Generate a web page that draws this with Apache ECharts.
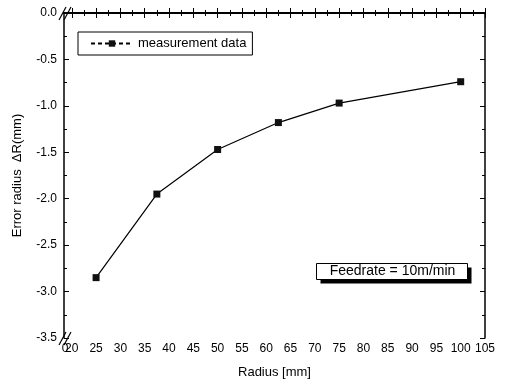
<!DOCTYPE html>
<html>
<head>
<meta charset="utf-8">
<script src="https://cdn.jsdelivr.net/npm/echarts@6/dist/echarts.min.js"></script>
<style>
  html, body { margin: 0; padding: 0; background: #fff; }
  #chart { width: 506px; height: 385px; }
</style>
</head>
<body>
<div id="chart"></div>
<script>
const radius = [25, 37.5, 50, 62.5, 75, 100];
const errorRadius = [-2.85, -1.95, -1.47, -1.18, -0.97, -0.74];
const xMajorTicks = [20, 25, 30, 35, 40, 45, 50, 55, 60, 65, 70, 75, 80, 85, 90, 95, 100, 105];
const xMinorTicks = [22.5, 27.5, 32.5, 37.5, 42.5, 47.5, 52.5, 57.5, 62.5, 67.5, 72.5, 77.5, 82.5, 87.5, 92.5, 97.5, 102.5];
const xBreakStart = 18.4; // axis shows "0", then a break, then 20
const noteText = "Feedrate = 10m/min";

const chart = echarts.init(document.getElementById("chart"));
const font = "Liberation Sans, Arial, sans-serif";

const baseX = {
  type: "value",
  min: xBreakStart,
  max: 105,
  axisLine: { show: true, lineStyle: { color: "#000", width: 1.5 } },
  splitLine: { show: false },
};

const baseY = {
  type: "value",
  min: -3.5,
  max: 0,
  interval: 0.5,
  axisLine: { show: true, lineStyle: { color: "#000", width: 1.5 } },
  axisTick: { inside: true, length: 5, lineStyle: { color: "#000" } },
  minorTick: { show: true, splitNumber: 2, length: 3, lineStyle: { color: "#000" } },
  splitLine: { show: false },
};

const option = {
  animation: false,
  grid: { left: 64, right: 21, top: 13, bottom: 47 },
  legend: {
    left: 78,
    top: 32,
    padding: [5, 6, 5, 12],
    itemWidth: 42,
    itemHeight: 8,
    itemGap: 4,
    borderColor: "#000",
    borderWidth: 1,
    textStyle: { fontFamily: font, fontSize: 13, color: "#000" },
    lineStyle: { type: [4, 3] },
    data: ["measurement data"],
  },
  xAxis: [
    Object.assign({}, baseX, {
      position: "bottom",
      name: "Radius [mm]",
      nameLocation: "middle",
      nameGap: 28,
      nameTextStyle: { fontFamily: font, fontSize: 13, color: "#000" },
      axisTick: { inside: true, length: 5, customValues: xMajorTicks, lineStyle: { color: "#000" } },
      axisLabel: {
        customValues: xMajorTicks,
        fontFamily: font, fontSize: 12, color: "#000", margin: 5,
      },
    }),
    Object.assign({}, baseX, {
      position: "bottom",
      axisTick: { inside: true, length: 3, customValues: xMinorTicks, lineStyle: { color: "#000" } },
      axisLabel: { show: false },
    }),
    Object.assign({}, baseX, {
      position: "top",
      axisTick: { inside: true, length: 5, customValues: xMajorTicks, lineStyle: { color: "#000" } },
      axisLabel: { show: false },
    }),
    Object.assign({}, baseX, {
      position: "top",
      axisTick: { inside: true, length: 3, customValues: xMinorTicks, lineStyle: { color: "#000" } },
      axisLabel: { show: false },
    }),
  ],
  yAxis: [
    Object.assign({}, baseY, {
      position: "left",
      name: "Error radius  \u0394R(mm)",
      nameLocation: "middle",
      nameGap: 40,
      nameTextStyle: { fontFamily: font, fontSize: 13, color: "#000" },
      axisLabel: {
        formatter: v => v.toFixed(1),
        fontFamily: font, fontSize: 12, color: "#000", margin: 7,
      },
    }),
    Object.assign({}, baseY, {
      position: "right",
      axisLabel: { show: false },
    }),
  ],
  series: [
    {
      name: "measurement data",
      type: "line",
      data: radius.map((r, i) => [r, errorRadius[i]]),
      symbol: "rect",
      symbolSize: 7,
      color: "#000",
      lineStyle: { color: "#000", width: 1.2 },
      itemStyle: { color: "#111" },
    },
  ],
};

chart.setOption(option);

const extras = [];

// axis break marks "//" at the left end of the x axis (top and bottom)
[0, -3.5].forEach(yv => {
  const p = chart.convertToPixel({ xAxisIndex: 0, yAxisIndex: 0 }, [xBreakStart, yv]);
  [-1, 4].forEach(dx => {
    extras.push({
      type: "line",
      shape: { x1: p[0] + dx - 4, y1: p[1] + 7, x2: p[0] + dx + 3, y2: p[1] - 6 },
      style: { stroke: "#000", lineWidth: 1.2 },
      z: 100,
    });
  });
});

// "0" label before the break
const p0 = chart.convertToPixel({ xAxisIndex: 0, yAxisIndex: 0 }, [xBreakStart, -3.5]);
extras.push({
  type: "text",
  x: p0[0] + 1,
  y: p0[1] + 5,
  style: { text: "0", font: "12px " + font, fill: "#000", align: "center", verticalAlign: "top" },
  z: 100,
});

// framed note with a drop shadow
extras.push({
  type: "group",
  left: 316,
  top: 263,
  children: [
    { type: "rect", shape: { x: 4, y: 4, width: 151, height: 16 }, style: { fill: "#000" } },
    { type: "rect", shape: { x: 0, y: 0, width: 151, height: 16 }, style: { fill: "#fff", stroke: "#000", lineWidth: 1 } },
    {
      type: "text", x: 76, y: 8,
      style: { text: noteText, font: "14px " + font, fill: "#000", align: "center", verticalAlign: "middle" },
    },
  ],
  z: 100,
});

chart.setOption({ graphic: extras });
</script>
</body>
</html>
